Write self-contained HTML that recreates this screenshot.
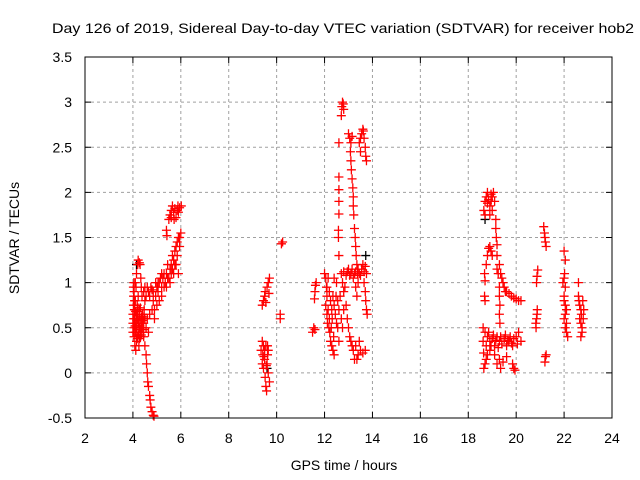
<!DOCTYPE html>
<html><head><meta charset="utf-8"><style>body{margin:0;background:#fff}svg{display:block;font-family:"Liberation Sans",sans-serif}</style></head>
<body>
<svg id="chart" width="640" height="480" xmlns="http://www.w3.org/2000/svg">
<rect width="640" height="480" fill="#fff"/>
<text x="343" y="33" font-size="14" text-anchor="middle" textLength="582" lengthAdjust="spacingAndGlyphs">Day 126 of 2019, Sidereal Day-to-day VTEC variation (SDTVAR) for receiver hob2</text>
<g id="grid"></g>
<g id="ticks"></g>
<g id="marks"></g>
<rect x="85" y="57" width="527" height="361" fill="none" stroke="#000" stroke-width="1"/>
<text x="344" y="470" font-size="14" text-anchor="middle">GPS time / hours</text>
<text x="0" y="0" font-size="14" text-anchor="middle" transform="translate(19,238) rotate(-90)">SDTVAR / TECUs</text>
</svg>
<script>
const xTicks=[2,4,6,8,10,12,14,16,18,20,22,24];
const yTicks=[-0.5,0,0.5,1,1.5,2,2.5,3,3.5];
const yTickLabels=["-0.5","0","0.5","1","1.5","2","2.5","3","3.5"];
const pointsA=[[4.0,0.55],[4.0,0.65],[4.02,0.75],[4.03,0.85],[4.05,0.9],[4.05,0.5],[4.07,0.6],[4.08,0.7],[4.1,0.45],[4.1,0.8],[4.12,0.55],[4.13,0.95],[4.15,0.65],[4.15,0.35],[4.17,0.5],[4.18,0.75],[4.2,0.4],[4.2,0.6],[4.22,0.85],[4.25,0.5],[4.25,0.3],[4.27,0.7],[4.3,0.45],[4.3,0.6],[4.32,0.4],[4.35,0.55],[4.37,0.5],[4.4,0.65],[4.42,0.45],[4.45,0.55],[4.47,0.7],[4.5,0.6],[4.1,1.0],[4.15,1.1],[4.2,1.2],[4.22,1.25],[4.27,1.22],[4.3,1.2],[4.33,1.05],[4.35,0.95],[4.38,0.85],[4.02,0.95],[4.05,0.4],[4.08,0.3],[4.12,0.25],
[4.03,0.6],[4.06,0.7],[4.09,0.52],[4.14,0.45],[4.16,0.58],[4.19,0.68],[4.23,0.55],[4.26,0.62],[4.29,0.52],[4.33,0.48],[4.36,0.62],[4.39,0.55],[4.41,0.58],[4.44,0.48],[4.46,0.62],[4.24,0.42],[4.18,0.38],[4.28,0.38],[4.35,0.42],[4.11,0.68],[4.21,0.72],[4.31,0.72],[4.0,0.45],[4.04,1.0],[4.07,0.8],
[4.45,0.4],[4.5,0.3],[4.55,0.2],[4.57,0.1],[4.6,0.0],[4.62,-0.1],[4.65,-0.15],[4.7,-0.25],[4.72,-0.3],[4.75,-0.38],[4.8,-0.43],[4.85,-0.47],[4.88,-0.48],
[4.5,0.8],[4.55,0.85],[4.6,0.95],[4.65,0.9],[4.7,0.85],[4.75,0.95],[4.8,0.92],[4.85,0.8],[4.9,0.7],[4.95,0.85],[5.0,0.95],[5.05,0.9],[5.1,1.0],[5.15,1.05],[5.2,0.95],[5.25,1.05],[5.3,1.1],[5.35,1.0],[5.4,1.1],[5.45,1.2],[5.5,1.05],[5.55,1.15],[5.6,1.2],[5.65,1.3],[5.7,1.25],[5.75,1.35],[5.8,1.4],[5.85,1.45],[5.9,1.5],[5.95,1.5],[6.0,1.55],[5.7,1.1],[5.8,1.2],[5.9,1.1],[4.6,0.6],[4.7,0.65],[4.8,0.7],[4.9,0.6],[5.0,0.75],[5.1,0.8],[5.2,0.85],[4.55,0.5],[4.65,0.45],[4.5,0.95],[4.45,0.9],
[5.05,1.0],[5.2,1.1],[5.3,0.95],[5.45,1.05],[5.55,1.0],[5.6,1.1],[5.65,1.15],[5.75,1.2],[5.85,1.3],[5.95,1.4],[5.4,0.95],[4.85,0.9],[4.95,1.0],
[5.5,1.7],[5.55,1.75],[5.6,1.8],[5.65,1.85],[5.7,1.78],[5.75,1.82],[5.8,1.72],[5.85,1.8],[5.9,1.78],[5.95,1.83],[6.02,1.85],[5.4,1.58],[5.42,1.52],[5.6,1.72],[5.72,1.7],[5.88,1.85]];
const pointsB=[[9.4,0.1],[9.42,0.2],[9.45,0.3],[9.45,0.05],[9.5,0.25],[9.5,0.15],[9.52,-0.05],[9.55,0.3],[9.55,-0.15],[9.58,-0.2],[9.6,0.1],[9.62,0.2],[9.65,0.0],[9.65,0.25],[9.7,-0.1],[9.4,0.35],[9.35,0.25],[9.4,0.75],[9.45,0.8],[9.5,0.85],[9.52,0.9],[9.55,0.78],[9.6,0.95],[9.65,1.0],[9.7,1.05],[9.68,0.88],[10.15,0.6],[10.15,0.65],[10.2,1.43],[10.25,1.45],[9.47,0.18],[9.57,0.08],[9.62,0.3]];
const pointsC=[[11.5,0.45],[11.55,0.5],[11.6,0.48],[11.58,0.82],[11.6,0.9],[11.62,0.97],[11.65,1.0],
[12.0,1.1],[12.05,1.05],[12.08,0.95],[12.1,0.85],[12.05,0.75],[12.1,0.65],[12.12,0.55],[12.15,0.7],[12.18,0.5],[12.2,0.6],[12.22,0.45],[12.25,0.35],[12.28,0.5],[12.3,0.3],[12.32,0.6],[12.35,0.25],[12.38,0.4],[12.4,0.2],[12.1,0.95],[12.15,1.05],[12.2,0.9],[12.25,0.8],[12.3,0.7],[12.35,0.85],[12.4,0.75],[12.45,0.65],[12.5,0.55],[12.55,0.8],[12.6,0.7],[12.48,0.85],[12.4,1.05],[12.5,1.0],[12.55,0.5],[12.6,0.35],
[12.6,2.55],[12.6,2.17],[12.6,2.03],[12.6,1.9],[12.6,1.76],[12.58,1.58],[12.58,1.5],[12.6,1.3],
[12.72,2.95],[12.75,3.0],[12.78,2.98],[12.8,2.92],[12.7,2.85],
[13.0,2.65],[13.05,2.6],[13.1,2.55],[13.15,2.62],[13.08,2.45],[13.1,2.35],[13.12,2.25],[13.15,2.15],[13.18,2.05],[13.2,1.95],[13.2,1.85],[13.22,1.75],[13.25,1.6],[13.28,1.5],[13.3,1.4],[13.32,1.3],[13.35,1.2],[13.38,1.1],[13.4,1.0],[13.3,0.95],[13.35,0.85],
[13.5,2.6],[13.55,2.65],[13.6,2.7],[13.62,2.68],[13.65,2.6],[13.7,2.5],[13.72,2.4],[13.75,2.35],[13.5,2.45],[13.45,2.55],
[12.7,1.1],[12.8,1.12],[12.9,1.08],[13.0,1.15],[13.1,1.1],[13.2,1.05],[13.3,1.12],[13.45,1.1],[13.55,1.15],[13.6,1.2],[13.7,1.18],[13.75,1.1],[13.65,1.0],[13.7,0.9],[13.72,0.8],[13.75,0.7],[13.78,0.65],[12.75,1.0],[12.85,0.95],
[12.95,1.12],[13.05,1.08],[13.15,1.15],[13.25,1.1],[13.4,1.15],[13.5,1.08],[13.65,1.12],
[12.8,0.9],[12.9,0.75],[12.95,0.6],[13.0,0.5],[13.05,0.4],[13.1,0.35],[13.15,0.3],[13.2,0.25],[13.3,0.3],[13.4,0.2],[13.5,0.25],[13.6,0.22],[13.7,0.25],[13.35,0.15],[13.45,0.35],[13.25,0.15],
[12.7,0.6],[12.75,0.5],[12.8,0.7],[12.65,0.85]];
const pointsD=[[18.7,1.9],[18.75,1.95],[18.8,2.0],[18.85,1.92],[18.9,1.85],[18.95,1.98],[19.0,1.95],[19.05,2.0],[19.1,1.9],[19.0,1.8],[18.9,1.75],[18.7,1.75],[18.65,1.8],[18.8,1.88],[18.95,1.9],
[19.15,1.7],[19.15,1.6],[19.17,1.5],[19.2,1.42],[19.2,1.3],
[18.8,1.3],[18.85,1.38],[18.9,1.4],[18.95,1.35],[19.0,1.3],[18.75,1.2],[18.68,1.1],[18.7,1.02],[18.68,0.85],[18.7,0.8],
[19.2,1.15],[19.25,1.1],[19.3,1.2],[19.35,1.1],[19.4,1.05],[19.45,1.0],[19.5,0.95],[19.55,0.9],[19.6,0.9],[19.7,0.88],[19.8,0.85],[19.9,0.83],[20.0,0.82],[20.1,0.8],[20.2,0.8],
[19.3,0.95],[19.3,0.85],[19.32,0.75],[19.3,0.65],[19.32,0.55],
[18.7,0.45],[18.8,0.4],[18.9,0.35],[19.0,0.38],[19.1,0.3],[19.2,0.4],[19.3,0.35],[19.4,0.32],[19.5,0.38],[19.6,0.3],[19.7,0.35],[19.8,0.33],[19.9,0.38],[20.0,0.4],[20.1,0.45],[20.2,0.35],[18.75,0.3],[18.85,0.45],[19.05,0.42],[19.25,0.28],[19.55,0.42],[19.75,0.4],[18.62,0.5],[18.62,0.35],[18.64,0.22],
[18.95,0.3],[19.15,0.36],[19.35,0.4],[19.65,0.36],[19.85,0.3],[20.05,0.32],
[18.65,0.05],[18.7,0.1],[18.75,0.15],[18.8,0.2],[18.9,0.25],[19.1,0.2],[19.2,0.1],[19.3,0.15],[19.35,0.05],[19.45,0.12],[19.6,0.18],[19.85,0.1],[19.9,0.05],[19.95,0.03]];
const pointsE=[[20.85,1.0],[20.87,1.07],[20.9,1.14],[20.82,0.55],[20.85,0.6],[20.87,0.65],[20.83,0.5],[20.88,0.7],[21.15,1.62],[21.18,1.55],[21.2,1.5],[21.22,1.45],[21.25,1.4],[21.2,0.12],[21.22,0.18],[21.25,0.2]];
const pointsF=[[22.0,1.35],[22.05,1.25],[22.02,1.1],[22.0,1.05],[21.95,1.0],[22.05,0.95],[22.0,0.8],[22.05,0.75],[22.1,0.7],[22.05,0.65],[22.0,0.6],[22.1,0.55],[22.05,0.5],[22.1,0.45],[22.15,0.4],[22.0,0.85],[22.6,0.85],[22.62,0.8],[22.65,0.75],[22.7,0.7],[22.72,0.65],[22.65,0.6],[22.7,0.55],[22.75,0.5],[22.8,0.6],[22.82,0.7],[22.78,0.8],[22.75,0.45],[22.6,1.0],[22.7,0.4]];
const blackPoints=[[4.15,1.2],[13.72,1.3],[18.7,1.7],[9.6,0.05]];

const X0=85,X1=612,Y0=418,Y1=57;
function sx(v){return X0+(v-2)/(24-2)*(X1-X0);}
function sy(v){return Y0-(v+0.5)/(3.5+0.5)*(Y0-Y1);}
const NS="http://www.w3.org/2000/svg";
const grid=document.getElementById('grid'),ticks=document.getElementById('ticks'),marks=document.getElementById('marks');
function mk(t,a,p){const e=document.createElementNS(NS,t);for(const k in a)e.setAttribute(k,a[k]);p.appendChild(e);return e;}
xTicks.forEach(v=>{const x=sx(v);
 if(v>2&&v<24){const l=mk('line',{x1:x,x2:x,y1:Y1,y2:Y0,stroke:'#a0a0a0','stroke-dasharray':'3,3'},grid);
 
 }
 mk('line',{x1:x,x2:x,y1:Y0,y2:Y0-6,stroke:'#000'},ticks);mk('line',{x1:x,x2:x,y1:Y1,y2:Y1+6,stroke:'#000'},ticks);
 const t=mk('text',{x:x,y:443,'font-size':14,'text-anchor':'middle'},ticks);t.textContent=v;
 
 });
yTicks.forEach((v,i)=>{const y=sy(v);
 if(v>-0.5&&v<3.5){const l=mk('line',{x1:X0,x2:X1,y1:y,y2:y,stroke:'#a0a0a0','stroke-dasharray':'3,3'},grid);
 
 }
 mk('line',{x1:X0,x2:X0+6,y1:y,y2:y,stroke:'#000'},ticks);mk('line',{x1:X1,x2:X1-6,y1:y,y2:y,stroke:'#000'},ticks);
 const t=mk('text',{x:72,y:y+5,'font-size':14,'text-anchor':'end'},ticks);t.textContent=yTickLabels[i];
 
 });
function plus(p,col){const x=sx(p[0]),y=sy(p[1]);
 const g=mk('path',{d:`M${x-4.5} ${y}H${x+4.5}M${x} ${y-4.5}V${y+4.5}`,stroke:col,'stroke-width':1.3,fill:'none'},marks);
 
 }
blackPoints.forEach(p=>plus(p,'#000'));
[pointsA,pointsB,pointsC,pointsD,pointsE,pointsF].forEach(s=>s.forEach(p=>plus(p,'#ff0000')));
</script>
</body></html>
